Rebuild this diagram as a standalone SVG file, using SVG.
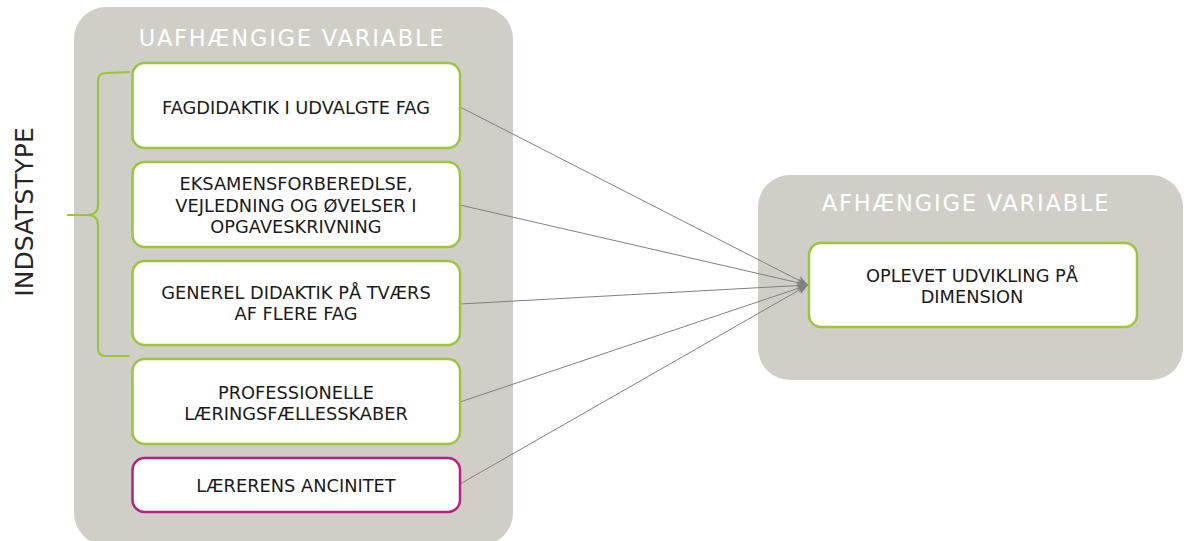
<svg xmlns="http://www.w3.org/2000/svg" width="1184" height="541" viewBox="0 0 1184 541">
  <style>
    .panel { fill: #d0cfc7; }
    .box { fill: #ffffff; stroke: #9cc43e; stroke-width: 2.5; }
    .box.alt { stroke: #b8207e; }
    .title { font-family: "DejaVu Sans", Verdana, sans-serif; font-size: 22.5px; letter-spacing: 1.8px; fill: #ffffff; text-anchor: middle; }
    .lbl { font-family: "DejaVu Sans", Verdana, sans-serif; font-size: 17.8px; fill: #1a1a1a; text-anchor: middle; }
    .side { font-family: "DejaVu Sans", Verdana, sans-serif; font-size: 25px; fill: #262626; text-anchor: middle; }
    .conn { stroke: #808080; stroke-width: 1; fill: none; marker-end: url(#arrow); }
    .brace { stroke: #9cc43e; stroke-width: 2.2; fill: none; }
  </style>
  <defs>
    <marker id="arrow" markerUnits="userSpaceOnUse" markerWidth="12" markerHeight="10" refX="11" refY="4.5" orient="auto">
      <path d="M0,0 L11,4.5 L0,9 L3,4.5 z" fill="#808080"/>
    </marker>
  </defs>

  <!-- background panels -->
  <g id="panel-independent">
    <rect class="panel" x="74" y="7" width="439" height="538" rx="32"/>
    <text class="title" x="292" y="46">UAFHÆNGIGE VARIABLE</text>
  </g>
  <g id="panel-dependent">
    <rect class="panel" x="758" y="175" width="425" height="205" rx="32"/>
    <text class="title" x="966" y="211">AFHÆNGIGE VARIABLE</text>
  </g>

  <!-- grouping brace and its label -->
  <g id="brace-indsatstype">
    <path class="brace" d="M130,72 L106,73 Q98,73 98,81 L98,205 Q98,215 87,215 L67,215 M87,215 Q98,215 98,225 L98,348 Q98,356 106,356 L130,356"/>
    <text class="side" transform="translate(33,212) rotate(-90)">INDSATSTYPE</text>
  </g>

  <!-- connectors -->
  <g id="connectors">
    <line class="conn" x1="460" y1="107" x2="808" y2="285"/>
    <line class="conn" x1="460" y1="205" x2="808" y2="285"/>
    <line class="conn" x1="460" y1="304" x2="808" y2="285"/>
    <line class="conn" x1="460" y1="402" x2="808" y2="285"/>
    <line class="conn" x1="460" y1="484" x2="808" y2="285"/>
  </g>

  <!-- independent variables -->
  <g id="node-fagdidaktik">
    <rect class="box" x="132.5" y="63" width="327.5" height="85" rx="12"/>
    <text class="lbl" x="296" y="114">FAGDIDAKTIK I UDVALGTE FAG</text>
  </g>
  <g id="node-eksamen">
    <rect class="box" x="132.5" y="162" width="327.5" height="85" rx="12"/>
    <text class="lbl" x="296" y="190">EKSAMENSFORBEREDLSE,</text>
    <text class="lbl" x="296" y="211.5">VEJLEDNING OG ØVELSER I</text>
    <text class="lbl" x="296" y="233">OPGAVESKRIVNING</text>
  </g>
  <g id="node-generel">
    <rect class="box" x="132.5" y="261" width="327.5" height="84" rx="12"/>
    <text class="lbl" x="296" y="298.5">GENEREL DIDAKTIK PÅ TVÆRS</text>
    <text class="lbl" x="296" y="320">AF FLERE FAG</text>
  </g>
  <g id="node-professionelle">
    <rect class="box" x="132.5" y="359" width="327.5" height="85" rx="12"/>
    <text class="lbl" x="296" y="398.5">PROFESSIONELLE</text>
    <text class="lbl" x="296" y="419.5">LÆRINGSFÆLLESSKABER</text>
  </g>
  <g id="node-ancinitet">
    <rect class="box alt" x="132.5" y="458" width="327.5" height="54" rx="12"/>
    <text class="lbl" x="296" y="491.5">LÆRERENS ANCINITET</text>
  </g>

  <!-- dependent variable -->
  <g id="node-udvikling">
    <rect class="box" x="809" y="243" width="328" height="84" rx="12"/>
    <text class="lbl" x="972" y="282">OPLEVET UDVIKLING PÅ</text>
    <text class="lbl" x="972" y="303">DIMENSION</text>
  </g>
</svg>
